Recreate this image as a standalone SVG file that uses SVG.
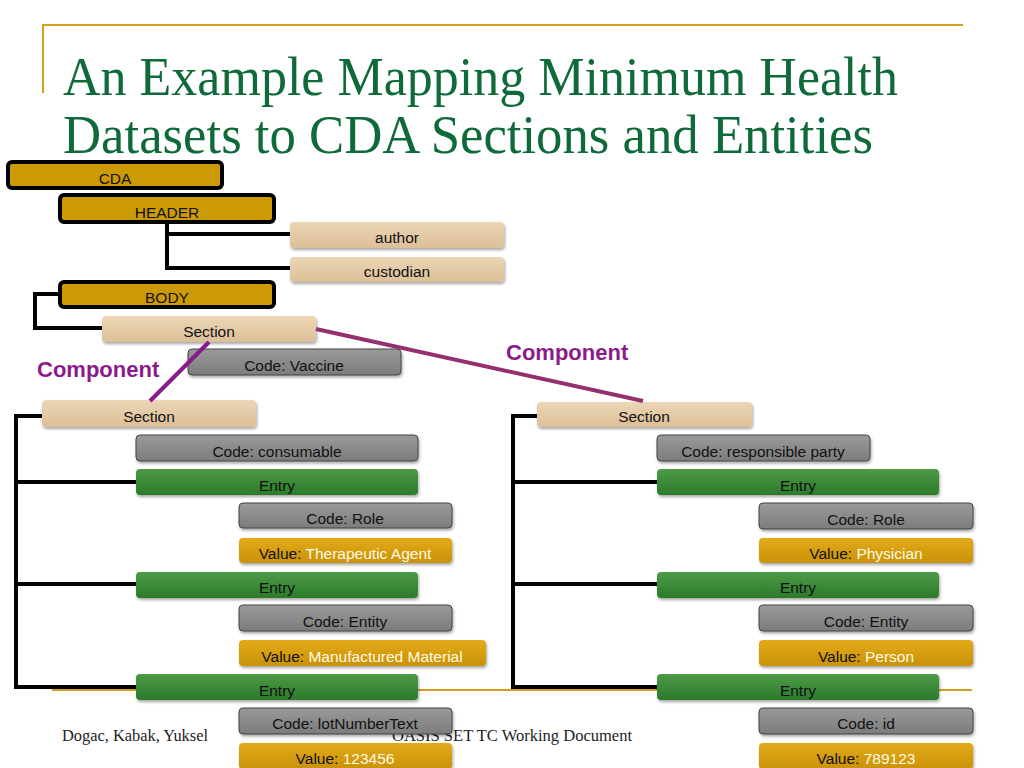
<svg xmlns="http://www.w3.org/2000/svg" width="1024" height="768" viewBox="0 0 1024 768">
<defs>
<style>
.ttl{font-family:"Liberation Serif",serif;font-size:54px;fill:#0f6a3a}
.ftr{font-family:"Liberation Serif",serif;font-size:16px;fill:#222}
.lbl{font-family:"Liberation Sans",Arial,sans-serif;font-size:15.5px;fill:#111;text-anchor:middle}
.cmp{font-family:"Liberation Sans",Arial,sans-serif;font-size:22px;font-weight:bold;fill:#8b1a8b}
.hdr{fill:#cc9a06;stroke:#000;stroke-width:4}
.tan{fill:url(#gTan);filter:url(#sh)}
.gry{fill:url(#gGry);stroke:#444;stroke-width:1;filter:url(#sh)}
.grn{fill:url(#gGrn);filter:url(#sh)}
.val{fill:url(#gVal);filter:url(#sh)}
.w{fill:#fffbe6}
.con{fill:none;stroke:#000;stroke-width:4}
.gold{stroke:#d4a017;stroke-width:2}
</style>
<linearGradient id="gTan" x1="0" y1="0" x2="0" y2="1"><stop offset="0" stop-color="#ecd6b6"/><stop offset="1" stop-color="#dcbf98"/></linearGradient>
<linearGradient id="gGry" x1="0" y1="0" x2="0" y2="1"><stop offset="0" stop-color="#9a9a9a"/><stop offset="1" stop-color="#7c7c7c"/></linearGradient>
<linearGradient id="gGrn" x1="0" y1="0" x2="0" y2="1"><stop offset="0" stop-color="#4e9a46"/><stop offset="1" stop-color="#2b7b2b"/></linearGradient>
<linearGradient id="gVal" x1="0" y1="0" x2="0" y2="1"><stop offset="0" stop-color="#e4aa1a"/><stop offset="1" stop-color="#c99206"/></linearGradient>
<filter id="sh" x="-5%" y="-20%" width="110%" height="150%"><feDropShadow dx="1" dy="2" stdDeviation="1.5" flood-color="#000" flood-opacity="0.35"/></filter>
</defs>
<rect width="1024" height="768" fill="#fff"/>
<g id="title">
<line class="gold" x1="42" y1="25" x2="963" y2="25"/>
<line class="gold" x1="43" y1="25" x2="43" y2="93"/>
<text class="ttl" x="63" y="95" textLength="835" lengthAdjust="spacingAndGlyphs">An Example Mapping Minimum Health</text>
<text class="ttl" x="63" y="153" textLength="810" lengthAdjust="spacingAndGlyphs">Datasets to CDA Sections and Entities</text>
</g>
<g id="footer">
<line class="gold" x1="52" y1="690" x2="972" y2="690"/>
<text class="ftr" x="62" y="741" textLength="146" lengthAdjust="spacingAndGlyphs">Dogac, Kabak, Yuksel</text>
<text class="ftr" x="392" y="741" textLength="240" lengthAdjust="spacingAndGlyphs">OASIS SET TC Working Document</text>
</g>
<g id="connectors">
<polyline class="con" points="167,223 167,268 290,268"/>
<line class="con" x1="167" y1="234" x2="290" y2="234"/>
<polyline class="con" points="60,294 35,294 35,328 102,328"/>
<polyline class="con" points="42,416 16,416 16,687 136,687"/>
<line class="con" x1="16" y1="482" x2="136" y2="482"/>
<line class="con" x1="16" y1="584" x2="136" y2="584"/>
<polyline class="con" points="537,416 513,416 513,687 657,687"/>
<line class="con" x1="513" y1="482" x2="657" y2="482"/>
<line class="con" x1="513" y1="584" x2="657" y2="584"/>
</g>
<g id="cda"><rect class="hdr" x="8" y="162" width="214" height="26" rx="4"/><text class="lbl" x="115" y="184">CDA</text></g>
<g id="header"><rect class="hdr" x="60" y="195" width="214" height="27" rx="4"/><text class="lbl" x="167" y="218">HEADER</text></g>
<g id="author"><rect class="tan" x="290" y="222" width="214" height="26" rx="4"/><text class="lbl" x="397" y="243">author</text></g>
<g id="custodian"><rect class="tan" x="290" y="257" width="214" height="25" rx="4"/><text class="lbl" x="397" y="277">custodian</text></g>
<g id="body"><rect class="hdr" x="60" y="282" width="214" height="25" rx="4"/><text class="lbl" x="167" y="303">BODY</text></g>
<g id="section0"><rect class="tan" x="102" y="316" width="214" height="26" rx="4"/><text class="lbl" x="209" y="337">Section</text></g>
<g id="codeVaccine"><rect class="gry" x="188" y="349" width="213" height="26" rx="4"/><text class="lbl" x="294" y="371">Code: Vaccine</text></g>
<g id="sectionL"><rect class="tan" x="42" y="400" width="214" height="27" rx="4"/><text class="lbl" x="149" y="422">Section</text></g>
<g id="codeConsumable"><rect class="gry" x="136" y="435" width="282" height="26" rx="4"/><text class="lbl" x="277" y="457">Code: consumable</text></g>
<g id="entryL1"><rect class="grn" x="136" y="469" width="282" height="26" rx="4"/><text class="lbl" x="277" y="491">Entry</text></g>
<g id="codeRoleL"><rect class="gry" x="239" y="503" width="213" height="25" rx="4"/><text class="lbl" x="345" y="524">Code: Role</text></g>
<g id="valueTherapeutic"><rect class="val" x="239" y="538" width="213" height="25" rx="4"/><text class="lbl" x="345" y="559">Value: <tspan class="w">Therapeutic Agent</tspan></text></g>
<g id="entryL2"><rect class="grn" x="136" y="572" width="282" height="26" rx="4"/><text class="lbl" x="277" y="593">Entry</text></g>
<g id="codeEntityL"><rect class="gry" x="239" y="605" width="213" height="26" rx="4"/><text class="lbl" x="345" y="627">Code: Entity</text></g>
<g id="valueManufactured"><rect class="val" x="239" y="640" width="247" height="26" rx="4"/><text class="lbl" x="362" y="662">Value: <tspan class="w">Manufactured Material</tspan></text></g>
<g id="entryL3"><rect class="grn" x="136" y="674" width="282" height="26" rx="4"/><text class="lbl" x="277" y="696">Entry</text></g>
<g id="codeLot"><rect class="gry" x="239" y="708" width="213" height="26" rx="4"/><text class="lbl" x="345" y="729">Code: lotNumberText</text></g>
<g id="value123456"><rect class="val" x="239" y="743" width="213" height="26" rx="4"/><text class="lbl" x="345" y="764">Value: <tspan class="w">123456</tspan></text></g>
<g id="sectionR"><rect class="tan" x="537" y="402" width="215" height="25" rx="4"/><text class="lbl" x="644" y="422">Section</text></g>
<g id="codeResponsible"><rect class="gry" x="657" y="435" width="213" height="26" rx="4"/><text class="lbl" x="763" y="457">Code: responsible party</text></g>
<g id="entryR1"><rect class="grn" x="657" y="469" width="282" height="26" rx="4"/><text class="lbl" x="798" y="491">Entry</text></g>
<g id="codeRoleR"><rect class="gry" x="759" y="503" width="214" height="26" rx="4"/><text class="lbl" x="866" y="525">Code: Role</text></g>
<g id="valuePhysician"><rect class="val" x="759" y="538" width="214" height="25" rx="4"/><text class="lbl" x="866" y="559">Value: <tspan class="w">Physician</tspan></text></g>
<g id="entryR2"><rect class="grn" x="657" y="572" width="282" height="26" rx="4"/><text class="lbl" x="798" y="593">Entry</text></g>
<g id="codeEntityR"><rect class="gry" x="759" y="605" width="214" height="26" rx="4"/><text class="lbl" x="866" y="627">Code: Entity</text></g>
<g id="valuePerson"><rect class="val" x="759" y="640" width="214" height="26" rx="4"/><text class="lbl" x="866" y="662">Value: <tspan class="w">Person</tspan></text></g>
<g id="entryR3"><rect class="grn" x="657" y="674" width="282" height="26" rx="4"/><text class="lbl" x="798" y="696">Entry</text></g>
<g id="codeId"><rect class="gry" x="759" y="708" width="214" height="26" rx="4"/><text class="lbl" x="866" y="729">Code: id</text></g>
<g id="value789123"><rect class="val" x="759" y="743" width="214" height="26" rx="4"/><text class="lbl" x="866" y="764">Value: <tspan class="w">789123</tspan></text></g>
<g id="component-links">
<line x1="209" y1="342" x2="150" y2="401" stroke="#8b1a8b" stroke-width="4"/>
<line x1="316" y1="329" x2="643" y2="401" stroke="#94306e" stroke-width="4"/>
<text class="cmp" x="37" y="377">Component</text>
<text class="cmp" x="506" y="360">Component</text>
</g>
</svg>
